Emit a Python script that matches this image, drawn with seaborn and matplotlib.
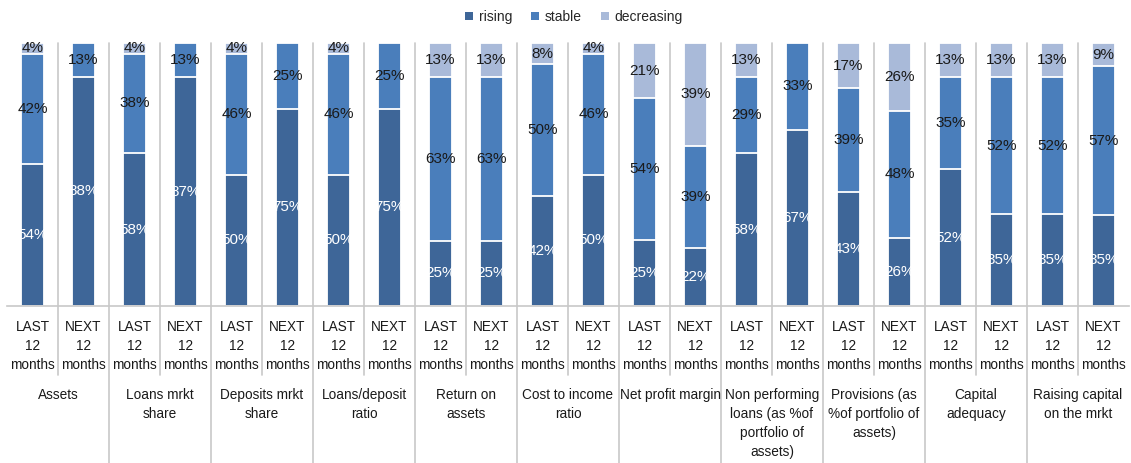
import numpy as np
import pandas as pd
import matplotlib
matplotlib.use("Agg")
import matplotlib.pyplot as plt
from matplotlib.patches import Patch
import seaborn as sns

# ---------------- data ----------------
categories = ["Assets", "Loans mrkt\nshare", "Deposits mrkt\nshare", "Loans/deposit\nratio",
              "Return on\nassets", "Cost to income\nratio", "Net profit margin",
              "Non performing\nloans (as %of\nportfolio of\nassets)",
              "Provisions (as\n%of portfolio of\nassets)", "Capital\nadequacy",
              "Raising capital\non the mrkt"]
periods = ["LAST\n12\nmonths", "NEXT\n12\nmonths"]
rising = [54, 88, 58, 87, 50, 75, 50, 75, 25, 25, 42, 50, 25, 22, 58, 67, 43, 26, 52, 35, 35, 35]
stable = [42, 13, 38, 13, 46, 25, 46, 25, 63, 63, 50, 46, 54, 39, 29, 33, 39, 48, 35, 52, 52, 57]
decreasing = [4, 0, 4, 0, 4, 0, 4, 0, 13, 13, 8, 4, 21, 39, 13, 0, 17, 26, 13, 13, 13, 9]
series_names = ["rising", "stable", "decreasing"]
colors = {"rising": "#3E6698", "stable": "#4A7EBB", "decreasing": "#A9BAD9"}

# ---------------- setup ----------------
sns.set_style("white")
plt.rcParams["font.family"] = ["Liberation Sans", "DejaVu Sans"]

W, H = 1131, 463
fig = plt.figure(figsize=(W / 100, H / 100), dpi=100)
ax_left, ax_right, ax_top, ax_bot = 7, 1129, 43, 306
ax = fig.add_axes([ax_left / W, 1 - ax_bot / H, (ax_right - ax_left) / W, (ax_bot - ax_top) / H])

n = len(rising)
ids = [str(i) for i in range(n)]
r = np.array(rising, float)
s = np.array(stable, float)
d = np.array(decreasing, float)
tot = r + s + d
r_n, s_n, d_n = r / tot * 100, s / tot * 100, d / tot * 100

df = pd.DataFrame({"bar": ids,
                   "top_all": r_n + s_n + d_n,
                   "top_stable": r_n + s_n,
                   "top_rising": r_n})

layers = [("top_all", "decreasing"), ("top_stable", "stable"), ("top_rising", "rising")]
for col, name in layers:
    sns.barplot(data=df, x="bar", y=col, order=ids, color=colors[name], saturation=1,
                width=0.47, edgecolor="white", linewidth=1.3, ax=ax, errorbar=None)

ax.set_xlim(-0.5, n - 0.5)
ax.set_ylim(0, 100)
ax.set_xlabel("")
ax.set_ylabel("")
ax.set_xticks([])
ax.set_yticks([])
for sp in ["top", "left", "right"]:
    ax.spines[sp].set_visible(False)
ax.spines["bottom"].set_color("#c8c8c8")
ax.spines["bottom"].set_linewidth(1.2)

# value labels
fs_val = 11
for i in range(n):
    if r[i] > 0:
        ax.text(i, r_n[i] / 2, f"{int(r[i])}%", ha="center", va="center",
                color="white", fontsize=fs_val)
    if s[i] > 0:
        ax.text(i, r_n[i] + s_n[i] / 2, f"{int(s[i])}%", ha="center", va="center",
                color="#1a1a1a", fontsize=fs_val)
    if d[i] > 0:
        ax.text(i, r_n[i] + s_n[i] + d_n[i] / 2, f"{int(d[i])}%", ha="center", va="center",
                color="#1a1a1a", fontsize=fs_val)

# separators
xt = ax.get_xaxis_transform()
hpx = ax_bot - ax_top
def ya(px):
    return (ax_bot - px) / hpx

for k in range(n - 1):
    is_group = (k % 2 == 1)
    y0 = ya(463) if is_group else ya(375)
    ax.plot([k + 0.5, k + 0.5], [y0, 1.0], transform=xt, color="#c8c8c8",
            lw=1.2, clip_on=False, zorder=0)

# x labels
for i in range(n):
    ax.text(i, ya(346), periods[i % 2], transform=xt, ha="center", va="center",
            fontsize=9.8, linespacing=1.45, color="#1a1a1a")
for g, cat in enumerate(categories):
    ax.text(2 * g + 0.5, ya(388), cat, transform=xt, ha="center", va="top",
            fontsize=9.8, linespacing=1.45, color="#1a1a1a")

# legend
handles = [Patch(facecolor=colors[nm], edgecolor="none", label=nm) for nm in series_names]
fig.legend(handles=handles, loc="center", bbox_to_anchor=(574 / W, 1 - 17 / H), ncol=3,
           frameon=False, fontsize=10, handlelength=0.55, handleheight=0.55,
           handletextpad=0.4, columnspacing=1.4)

fig.savefig("out.png", dpi=100)
